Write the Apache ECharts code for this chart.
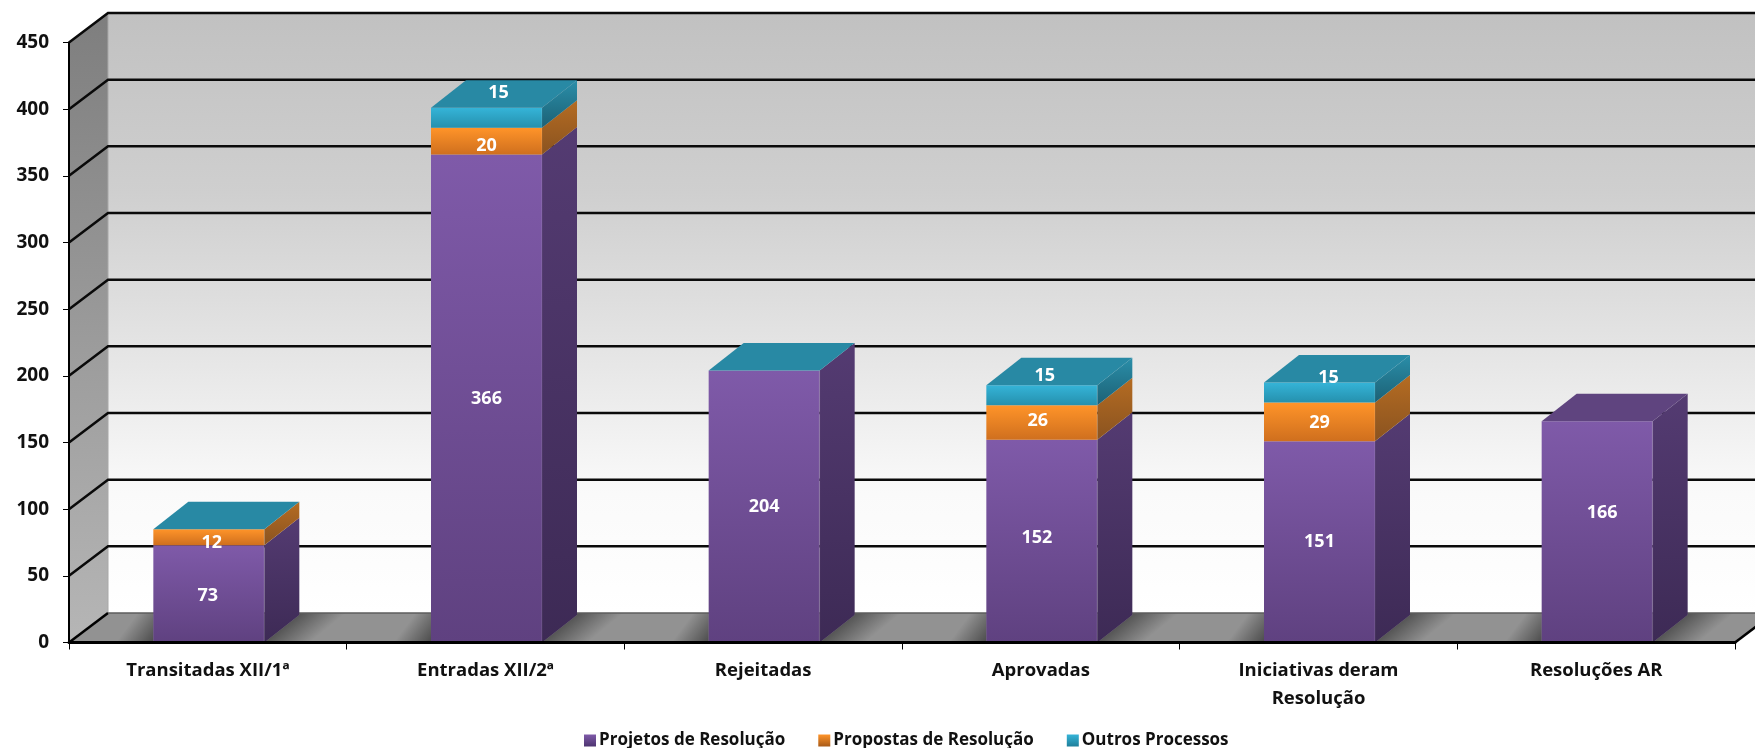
<!DOCTYPE html>
<html>
<head>
<meta charset="utf-8">
<style>html,body{margin:0;padding:0;background:#fff}#c{width:1755px;height:748px}</style>
<script src="https://cdn.jsdelivr.net/npm/echarts@6/dist/echarts.min.js"></script>
</head>
<body>
<div id="c"></div>
<script>
const categories = ['Transitadas XII/1ª', 'Entradas XII/2ª', 'Rejeitadas', 'Aprovadas', 'Iniciativas deram\nResolução', 'Resoluções AR'];
const projetos = [73, 366, 204, 152, 151, 166];
const propostas = [12, 20, 0, 26, 29, null];
const outros = [0, 15, 0, 15, 15, null];
const yTicks = [50, 100, 150, 200, 250, 300, 350, 400, 450];

/* styling and layout, separate from the values */
const FONT = '"Open Sans"';
const wallDepth = { dx: 39, dy: 29.5 };
const barDepth = { dx: 35, dy: 27.5 };
const barWidth = 111, barShift = 1;
const labelNudges = {
  'Projetos de Resolução': [[-1, 2], [0, 0], [0, 0], [-5, -3], [0, 0], [5, -19]],
  'Propostas de Resolução': [[3, 6], [0, 5], null, [-4, -2], [0, 1], null],
  'Outros Processos': [null, [12, -25], null, [3, -19], [9, -15], null]
};
const grad = (a, b, c) => ({
  type: 'linear', x: 0, y: 0, x2: 0, y2: 1,
  colorStops: c
    ? [{ offset: 0, color: a }, { offset: 0.5, color: b }, { offset: 1, color: c }]
    : [{ offset: 0, color: a }, { offset: 1, color: b }]
});
const shadow = (x, y, x2, y2, alpha) => ({
  type: 'linear', global: true, x, y, x2, y2,
  colorStops: [{ offset: 0, color: 'rgba(45,45,45,' + alpha + ')' }, { offset: 1, color: 'rgba(45,45,45,0)' }]
});
const looks = {
  'Projetos de Resolução': { front: grad('#7f5aa9', '#5f4180'), side: grad('#543b72', '#3d2a55'), top: '#5f447f', legend: grad('#7f5aa9', '#4d3470') },
  'Propostas de Resolução': { front: grad('#ff9429', '#cf6f1e'), side: grad('#b56c22', '#8a5320'), top: '#b56c22', legend: grad('#ff9429', '#a85a18') },
  'Outros Processos': { front: grad('#35b4d8', '#2590ad'), side: grad('#2a8ea9', '#1c6175'), top: '#2889a4', legend: grad('#35b4d8', '#1f7f9a') }
};

const stackOrder = [['Projetos de Resolução', projetos], ['Propostas de Resolução', propostas], ['Outros Processos', outros]];

function poly(points, fill, extra) {
  return Object.assign({ type: 'polygon', shape: { points }, style: { fill } }, extra || {});
}

function renderWalls(params, api) {
  const cs = params.coordSys;
  const l = cs.x, r = cs.x + cs.width;
  const y0 = api.coord([0, 0])[1], yTop = api.coord([0, 450])[1];
  const { dx, dy } = wallDepth;
  const children = [
    poly([[l + dx, yTop - dy], [r + dx, yTop - dy], [r + dx, y0 - dy], [l + dx, y0 - dy]],
      { type: 'linear', x: 0, y: 0, x2: 0, y2: 1, colorStops: [
        { offset: 0, color: '#c1c1c1' }, { offset: 0.3, color: '#cfcfcf' }, { offset: 0.6, color: '#e8e8e8' },
        { offset: 0.8, color: '#fafafa' }, { offset: 1, color: '#ffffff' }] }),
    poly([[l, yTop], [l + dx, yTop - dy], [l + dx, y0 - dy], [l, y0]], grad('#7e7e7e', '#b6b6b6')),
    poly([[l, y0], [l + dx, y0 - dy], [r + dx, y0 - dy], [r, y0]], '#929292'),
    { type: 'line', shape: { x1: l + dx, y1: yTop - dy, x2: l + dx, y2: y0 - dy }, style: { stroke: '#a8a8a8', lineWidth: 1 } }
  ];
  categories.forEach((_, i) => {
    const c = api.coord([i, 0])[0] + barShift;
    const a = c - barWidth / 2, b = c + barWidth / 2;
    const yb = y0 - dy;
    children.push(poly([[a - 45, y0], [a - 45, yb], [a, yb], [a, y0]], shadow(a, y0, a - 24, y0 - 18, 0.7)));
    const mx = b + barDepth.dx / 2, my = y0 - barDepth.dy / 2;
    children.push(poly([[b, y0], [b + barDepth.dx, y0 - barDepth.dy], [b + barDepth.dx, yb], [b + 90, yb], [b + 60, y0]],
      shadow(mx, my, mx + 18, my + 22, 0.6)));
  });
  children.push(
    { type: 'line', shape: { x1: l, y1: y0, x2: l + dx, y2: y0 - dy }, style: { stroke: '#000', lineWidth: 2.5 } },
    { type: 'line', shape: { x1: l + dx, y1: y0 - dy, x2: r + dx, y2: y0 - dy }, style: { stroke: '#5c5c5c', lineWidth: 1.5 } },
    { type: 'line', shape: { x1: r, y1: y0, x2: r + dx, y2: y0 - dy }, style: { stroke: '#000', lineWidth: 2.5 } }
  );
  return { type: 'group', children };
}

function renderGrid(params, api) {
  const cs = params.coordSys;
  const l = cs.x, r = cs.x + cs.width + wallDepth.dx;
  const y = api.coord([0, api.value(1)])[1];
  const { dx, dy } = wallDepth;
  return { type: 'group', children: [
    { type: 'polyline', shape: { points: [[l, y], [l + dx, y - dy], [r, y - dy]] }, style: { stroke: '#0a0a0a', lineWidth: 2.5, fill: null } }
  ] };
}

function makeBarRenderer(name, values, stackIndex) {
  return function (params, api) {
    const i = params.dataIndex, v = values[i];
    if (v === null) return null;
    let base = 0;
    for (let k = 0; k < stackIndex; k++) base += stackOrder[k][1][i] || 0;
    const yB = api.coord([i, base])[1], yT = api.coord([i, base + v])[1];
    const c = api.coord([i, 0])[0] + barShift;
    const a = c - barWidth / 2, b = c + barWidth / 2;
    const { dx, dy } = barDepth;
    const look = looks[name];
    const isTop = !stackOrder.slice(stackIndex + 1).some(s => s[1][i] !== null);
    const children = [];
    if (v > 0) {
      children.push(poly([[a, yT], [b, yT], [b, yB], [a, yB]], look.front));
      children.push(poly([[b, yT], [b + dx, yT - dy], [b + dx, yB - dy], [b, yB]], look.side));
      children.push({ type: 'rect', shape: { x: b - 1, y: yT, width: 1.5, height: yB - yT }, style: { fill: 'rgba(255,255,255,0.08)' } });
    }
    if (isTop) {
      children.push(poly([[a, yT], [a + dx, yT - dy], [b + dx, yT - dy], [b, yT]], look.top));
    }
    if (v > 0) {
      const n = labelNudges[name][i] || [0, 0];
      children.push({
        type: 'text', z2: 20,
        style: {
          text: String(v), x: c + n[0], y: (yB + yT) / 2 + n[1], fill: '#fff',
          font: 'bold 18px ' + FONT, align: 'center', verticalAlign: 'middle'
        }
      });
    }
    return { type: 'group', children };
  };
}

const barSeries = stackOrder.map(([name, values], si) => ({
  name, type: 'custom', z: 3, silent: true, clip: false,
  itemStyle: { color: looks[name].legend },
  renderItem: makeBarRenderer(name, values, si),
  encode: { x: 0, y: 1 },
  data: values.map((v, i) => [i, v === null ? 0 : v])
}));

const chart = echarts.init(document.getElementById('c'), null, { renderer: 'canvas' });
chart.setOption({
  animation: false,
  backgroundColor: '#fff',
  tooltip: { show: false },
  grid: { left: 69, top: 42.5, width: 1666, height: 600, containLabel: false },
  xAxis: {
    type: 'category', data: categories, z: 10,
    axisLine: { lineStyle: { color: '#000', width: 3 } },
    axisTick: { show: true, length: 7, lineStyle: { color: '#000', width: 1 } },
    axisLabel: { interval: 0, margin: 14, color: '#111', fontFamily: 'Open Sans', fontWeight: 'bold', fontSize: 18.5, lineHeight: 28 },
    splitLine: { show: false }
  },
  yAxis: {
    type: 'value', min: 0, max: 450, interval: 50, z: 10,
    axisLine: { show: true, lineStyle: { color: '#000', width: 2 } },
    axisTick: { show: true, length: 6, lineStyle: { color: '#000', width: 1 } },
    axisLabel: { margin: 20, color: '#111', fontFamily: 'Open Sans', fontWeight: 'bold', fontSize: 19 },
    splitLine: { show: false }
  },
  legend: {
    data: stackOrder.map(s => s[0]),
    left: 579, top: 727, itemWidth: 12, itemHeight: 12, itemGap: 33, icon: 'rect',
    textStyle: { color: '#111', fontFamily: 'Open Sans', fontWeight: 'bold', fontSize: 17, padding: [0, 0, 0, -2] }
  },
  series: [
    { type: 'custom', z: 1, silent: true, clip: false, renderItem: renderWalls, encode: { x: 0, y: 1 }, data: [[0, 0]] },
    { type: 'custom', z: 2, silent: true, clip: false, renderItem: renderGrid, encode: { x: 0, y: 1 }, data: yTicks.map(t => [0, t]) }
  ].concat(barSeries)
});
</script>
</body>
</html>
